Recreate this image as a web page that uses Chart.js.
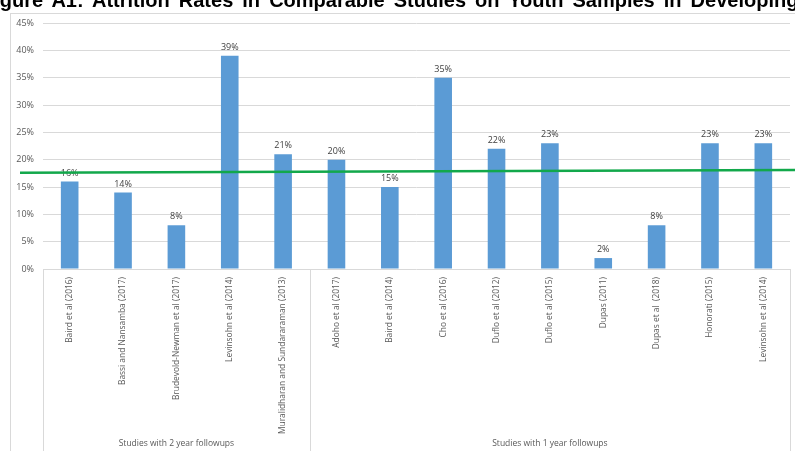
<!DOCTYPE html>
<html>
<head>
<meta charset="utf-8">
<script src="https://cdn.jsdelivr.net/npm/chart.js@4.4.1/dist/chart.umd.min.js"></script>
<style>
  html, body { margin: 0; padding: 0; background: #fff; overflow: hidden; }
  #wrap { position: relative; width: 795px; height: 451px; overflow: hidden; }
  #title { position: absolute; left: -18px; top: -11px; line-height: 22px; white-space: nowrap; font-family: "Liberation Sans", Arial, sans-serif; font-weight: bold; font-size: 20px; word-spacing: 3.5px; color: #000; z-index: 2; }
  canvas { position: absolute; left: 0; top: 0; }
</style>
</head>
<body>
<div id="wrap">
  <div id="title">Figure A1: Attrition Rates in Comparable Studies on Youth Samples in Developing Countries</div>
  <canvas id="attritionChart" width="795" height="451"></canvas>
</div>
<script>
// data
const studyLabels = [
  'Baird et al (2016)', 'Bassi and Nansamba (2017)', 'Brudevold-Newman et al (2017)',
  'Levinsohn et al (2014)', 'Muralidharan and Sundararaman (2013)',
  'Adoho et al (2017)', 'Baird et al (2014)', 'Cho et al (2016)', 'Duflo et al (2012)',
  'Duflo et al (2015)', 'Dupas (2011)', 'Dupas et al  (2018)', 'Honorati (2015)', 'Levinsohn et al (2014)'
];
const attritionRates = [16, 14, 8, 39, 21, 20, 15, 35, 22, 23, 2, 8, 23, 23];
const groupNames = ['Studies with 2 year followups', 'Studies with 1 year followups'];
const groupSizes = [5, 9];
const averageLine = [17.6, 18.1]; // hand-drawn green line, left end / right end
const yTickValues = [0, 5, 10, 15, 20, 25, 30, 35, 40, 45];

const textGrey = '#595959';
const gridGrey = '#d9d9d9';
const labelFont = '"Open Sans", sans-serif';

const followupGroups = {
  id: 'followupGroups',
  beforeDraw(chart) {
    const ctx = chart.ctx;
    ctx.save();
    ctx.strokeStyle = gridGrey;
    ctx.lineWidth = 1;
    ctx.strokeRect(10.5, 13.5, chart.width + 20, chart.height + 20);
    ctx.restore();
  },
  afterDatasetsDraw(chart) {
    const ctx = chart.ctx;
    const x = chart.scales.x, y = chart.scales.y;
    const area = chart.chartArea;
    ctx.save();

    // value labels
    ctx.font = '9px ' + labelFont;
    ctx.fillStyle = '#404040';
    ctx.textAlign = 'center';
    ctx.textBaseline = 'bottom';
    chart.getDatasetMeta(0).data.forEach((bar, i) => {
      ctx.fillText(attritionRates[i] + '%', bar.x, bar.y - 4);
    });

    // group separators + names
    ctx.strokeStyle = gridGrey;
    ctx.lineWidth = 1;
    ctx.font = '8.5px ' + labelFont;
    ctx.fillStyle = textGrey;
    ctx.textBaseline = 'middle';
    let start = 0;
    groupSizes.forEach((size, g) => {
      const left = x.getPixelForValue(start - 0.5);
      const right = x.getPixelForValue(start + size - 0.5);
      [left, right].forEach(px => {
        ctx.beginPath();
        ctx.moveTo(Math.round(px) + 0.5, area.bottom);
        ctx.lineTo(Math.round(px) + 0.5, chart.height);
        ctx.stroke();
      });
      ctx.fillText(groupNames[g], (left + right) / 2, chart.height - 7);
      start += size;
    });

    // green reference line
    ctx.strokeStyle = '#12a84b';
    ctx.lineWidth = 2.5;
    ctx.beginPath();
    ctx.moveTo(area.left - 23, y.getPixelForValue(averageLine[0]));
    ctx.lineTo(chart.width, y.getPixelForValue(averageLine[1]));
    ctx.stroke();
    ctx.restore();
  }
};

new Chart(document.getElementById('attritionChart'), {
  type: 'bar',
  data: {
    labels: studyLabels,
    datasets: [{
      data: attritionRates,
      backgroundColor: '#5b9bd5',
      borderWidth: 0,
      categoryPercentage: 1,
      barPercentage: 0.33
    }]
  },
  options: {
    responsive: false,
    animation: false,
    devicePixelRatio: 1,
    layout: { padding: { top: 23, right: 5, bottom: 0, left: 0 } },
    plugins: { legend: { display: false }, tooltip: { enabled: false }, title: { display: false } },
    scales: {
      x: {
        grid: { display: false },
        border: { display: false },
        ticks: {
          color: textGrey, font: { family: labelFont, size: 8.4 },
          maxRotation: 90, minRotation: 90, padding: 0, autoSkip: false
        },
        afterFit(scale) { scale.height = 182; }
      },
      y: {
        min: 0, max: 45,
        afterBuildTicks(scale) { scale.ticks = yTickValues.map(v => ({ value: v })); },
        grid: { color: gridGrey, drawTicks: false },
        border: { display: false },
        ticks: {
          color: textGrey, font: { family: labelFont, size: 9 }, padding: 9,
          callback: v => v + '%'
        },
        afterFit(scale) { scale.width = 43; }
      }
    }
  },
  plugins: [followupGroups]
});
</script>
</body>
</html>
